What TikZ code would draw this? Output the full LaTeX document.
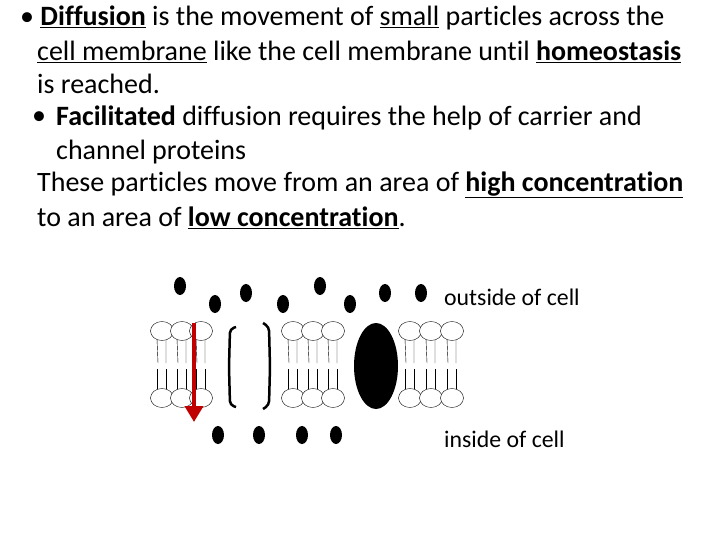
\documentclass[tikz,border=0pt]{standalone}
\usepackage{fontspec}
\setmainfont[RawFeature=-liga]{Carlito}
\usetikzlibrary{arrows.meta}
\begin{document}
\begin{tikzpicture}[x=1pt,y=-1pt,
  txt/.style={anchor=west,inner sep=0pt,font=\fontsize{28}{32}\selectfont},
  lab/.style={anchor=west,inner sep=0pt,font=\fontsize{23.8}{28}\selectfont},
  bracket/.style={line width=2.5pt,rounded corners=4pt}]
\useasboundingbox (0,0) rectangle (720,540);
\node[txt] (l1) at (20,18) {\textbullet\ \underline{\textbf{Diffusion}} is the movement of \underline{small} particles across the};
\node[txt] (l2) at (37,52) {\underline{cell membrane} like the cell membrane until \underline{\textbf{homeostasis}}};
\node[txt] (l3) at (37,84) {is reached.};
\node[txt] (l4b) at (32,118) {\textbullet};
\node[txt] (l4) at (56,118) {\textbf{Facilitated} diffusion requires the help of carrier and};
\node[txt] (l5) at (56,152) {channel proteins};
\node[txt] (l6) at (37,185) {These particles move from an area of \underline{\textbf{high concentration}}};
\node[txt] (l7) at (37,218) {to an area of \underline{\textbf{low concentration}}.};
\node[lab] (out) at (444,297) {outside of cell};
\node[lab] (in) at (444,439) {inside of cell};
% lipids
\foreach \x in {162,182,201,293,313,333,410,431,452}{
  \draw (\x-5,339) -- (\x-4,363) (\x+4,339) -- (\x+4,363);
  \draw (\x-5,369) -- (\x-5,391) (\x+4,369) -- (\x+4,391);
  \draw[fill=white] (\x,331) ellipse (11.5 and 9.5);
  \draw[fill=white] (\x,398) ellipse (11.5 and 9.5);
}
% channel brackets
\draw[bracket] (236,327) -- (230,329) -- (229,367) -- (230,405) -- (236,407);
\draw[bracket] (263,323) -- (269,327) -- (270,367) -- (269,405) -- (263,409);
% carrier protein
\fill (376,366) ellipse (22 and 43);
% particles
\foreach \p in {(180,286),(215,304),(246,293),(283,304),(320,286),(350,304),(385,293),(421,293),(218,435),(259,435),(302,435),(336,435)}
  \fill \p ellipse (6 and 9);
% arrow
\coordinate (a1) at (194,323);
\coordinate (a2) at (194,422);
\draw[line width=4pt,color={rgb,255:red,192;green,0;blue,0},-{Triangle[length=16pt,width=18pt]}] (a1) -- (a2);
\end{tikzpicture}
\end{document}
